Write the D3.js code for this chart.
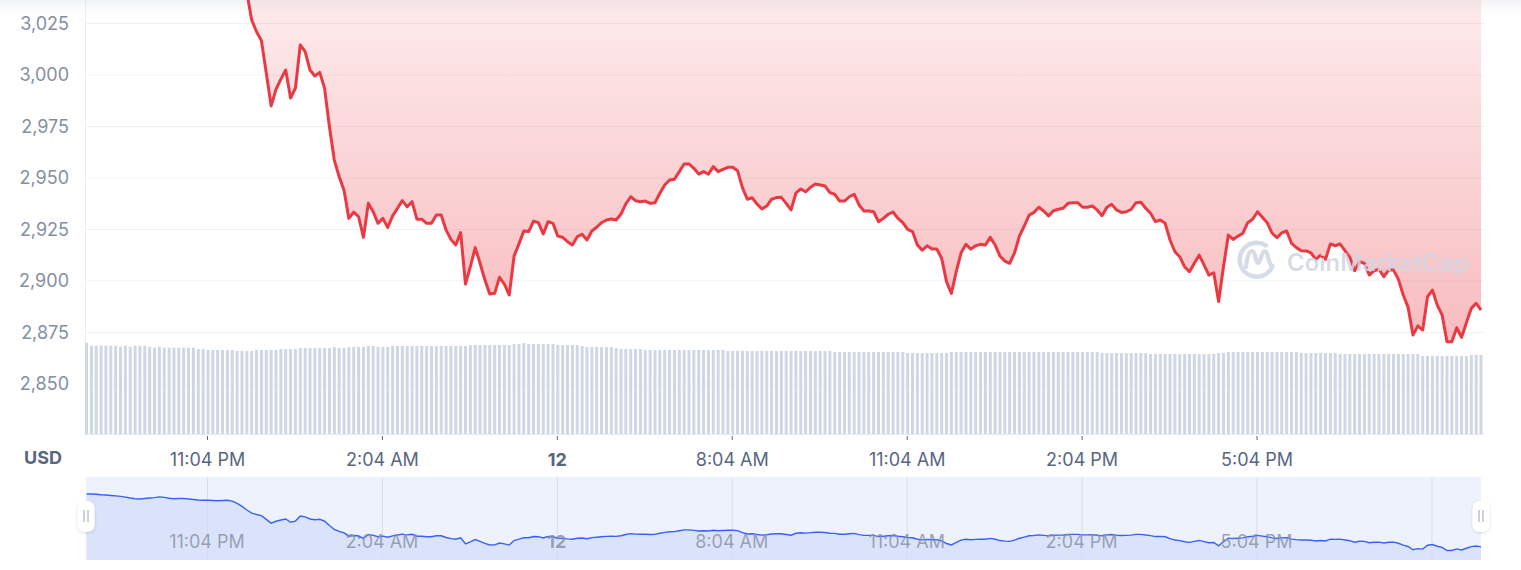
<!DOCTYPE html>
<html>
<head>
<meta charset="utf-8">
<script src="https://cdn.jsdelivr.net/npm/d3@7/dist/d3.min.js"></script>
<style>
  html, body { margin: 0; padding: 0; background: #ffffff; }
  svg { display: block; font-family: Inter, "Noto Sans", sans-serif; }
</style>
</head>
<body>
<svg id="chart" width="1521" height="570"></svg>
<script>
// ---------------- DATA ----------------
const startTime = "2022-03-11T21:00";   // first 5-minute sample
const stepMinutes = 5;

const prices = [
  3107, 3107, 3106, 3104, 3103, 3101, 3099, 3097, 3094, 3090,
  3087, 3086, 3088, 3090, 3092, 3095, 3093, 3089, 3087, 3088,
  3088, 3086, 3084, 3082, 3081, 3081, 3080, 3079, 3080, 3081,
  3077, 3068, 3055, 3040, 3026.7, 3021, 3016.7, 3001, 2985, 2993,
  2998, 3002.4, 2988.8, 2993.7, 3014.6, 3011.3, 3002.4, 2999.5, 3001.3, 2993.5,
  2974.9, 2958.7, 2950.6, 2944, 2930.4, 2933.4, 2931.2, 2921.2, 2937.7, 2933.6,
  2928, 2930.4, 2926, 2931.6, 2935.3, 2939, 2936, 2938.5, 2930, 2930,
  2928, 2928, 2932, 2932, 2924.8, 2920.2, 2917.5, 2923.5, 2898.5, 2907,
  2916.2, 2908.6, 2900.5, 2893.7, 2894.0, 2901.8, 2898.5, 2893.2, 2912.1, 2918.0,
  2924.3, 2924.0, 2929.1, 2928.3, 2922.8, 2928.8, 2928.0, 2921.8, 2921.2, 2919.1,
  2917.5, 2921.5, 2922.7, 2919.9, 2924.3, 2926.1, 2928.3, 2929.6, 2930.1, 2929.6,
  2932.5, 2937.4, 2940.9, 2939.0, 2938.5, 2938.8, 2937.7, 2938.0, 2942.6, 2946.6,
  2949.0, 2949.4, 2953.1, 2956.8, 2956.8, 2954.7, 2951.9, 2953.1, 2951.9, 2955.5,
  2953.1, 2954.2, 2955.2, 2955.2, 2953.5, 2945.3, 2939.7, 2940.4, 2937.4, 2935.0,
  2936.4, 2939.7, 2940.5, 2940.6, 2937.7, 2934.5, 2942.6, 2944.7, 2943.3, 2945.5,
  2947.1, 2946.6, 2946.1, 2942.9, 2942.1, 2938.8, 2938.8, 2940.9, 2942.1, 2936.9,
  2934.0, 2934.0, 2933.6, 2928.8, 2930.4, 2932.4, 2933.5, 2930.4, 2928.3, 2925.1,
  2924.0, 2917.5, 2915.0, 2917.1, 2915.5, 2915.5, 2911.0, 2899.7, 2894.0, 2904.5,
  2913.7, 2917.8, 2915.5, 2917.1, 2917.8, 2917.5, 2921.2, 2917.5, 2912.1, 2909.7,
  2908.6, 2913.7, 2921.8, 2926.7, 2932.0, 2933.3, 2935.8, 2934.0, 2931.6, 2934.1,
  2934.8, 2935.3, 2937.7, 2938.0, 2938.0, 2935.8, 2935.8, 2936.4, 2934.5, 2931.7,
  2935.8, 2937.2, 2934.5, 2933.3, 2933.6, 2934.8, 2938.0, 2938.2, 2935.3, 2932.9,
  2928.8, 2929.6, 2928.0, 2919.9, 2914.2, 2911.8, 2906.9, 2904.5, 2908.6, 2912.6,
  2907.8, 2902.9, 2904.0, 2890.0, 2906.9, 2922.3, 2920.2, 2921.8, 2923.2, 2928.3,
  2930.0, 2933.6, 2930.9, 2928.3, 2923.2, 2921.0, 2923.4, 2924.3, 2918.3, 2916.2,
  2914.7, 2914.6, 2913.7, 2910.5, 2912.6, 2910.5, 2918.0, 2917.1, 2918.0, 2914.7,
  2911.5, 2905.0, 2909.4, 2908.6, 2902.9, 2905.0, 2905.7, 2902.1, 2905.3, 2905.3,
  2900.8, 2893.2, 2887.2, 2873.8, 2878.2, 2876.2, 2892.4, 2895.6, 2888.3, 2883.5,
  2870.5, 2870.5, 2877.3, 2872.7, 2879.8, 2886.7, 2889.2, 2885.9
];

// trading volume per 5-minute bar (relative units, hidden axis)
const volumes = [
  91.3, 88.3, 88.3, 88.3, 88.3, 88.3, 88.3, 87.3, 88.3, 87.3,
  88.3, 88.3, 88.3, 87.3, 86.3, 87.3, 86.3, 86.3, 86.3, 86.3,
  86.3, 86.3, 86.3, 85, 85, 84, 84, 84, 84, 84,
  84, 83, 83, 83, 83, 84, 84, 84, 84, 84,
  85, 85, 85, 85, 86, 86, 86, 86, 86, 86,
  86, 87, 86, 86, 87, 87, 87, 87, 88, 88,
  87, 87, 87, 88, 88, 88, 88, 88, 88, 88,
  88, 88, 88, 88, 88, 88, 88, 88, 88, 89,
  89, 89, 89, 89, 89, 89, 89, 89, 90, 90,
  91, 90, 90, 90, 90, 90, 90, 89, 89, 89,
  89, 89, 88, 87, 87, 87, 87, 87, 87, 86,
  85, 85, 85, 85, 85, 84, 84, 84, 84, 84,
  84, 84, 84, 84, 84, 84, 84, 84, 84, 84,
  84, 84, 83, 83, 83, 83, 83, 83, 83, 83,
  83, 83, 83, 83, 83, 83, 83, 83, 83, 83,
  83, 83, 83, 83, 82, 82, 82, 82, 82, 82,
  82, 82, 82, 82, 82, 82, 82, 82, 82, 81,
  81, 81, 81, 81, 81, 81, 81, 81, 82, 82,
  82, 82, 82, 82, 82, 82, 82, 82, 82, 82,
  82, 82, 82, 82, 82, 82, 82, 82, 82, 82,
  82, 82, 82, 82, 82, 82, 82, 82, 82, 81,
  81, 81, 81, 81, 81, 81, 81, 81, 81, 80,
  80, 80, 80, 80, 80, 80, 80, 80, 80, 80,
  80, 80, 80, 81, 81, 82, 82, 82, 82, 82,
  82, 82, 82, 82, 82, 82, 82, 82, 82, 82,
  81, 81, 81, 81, 81, 81, 81, 81, 80, 80,
  80, 80, 80, 80, 80, 80, 80, 80, 80, 80,
  80, 80, 80, 80, 80, 78, 78, 78, 78, 78,
  78, 78, 78, 78, 78, 79, 79, 79
];

const yTicks = [2850, 2875, 2900, 2925, 2950, 2975, 3000, 3025];
const tickTimes = ["2022-03-11T23:04", "2022-03-12T02:04", "2022-03-12T05:04", "2022-03-12T08:04",
                   "2022-03-12T11:04", "2022-03-12T14:04", "2022-03-12T17:04"];
const tickLabels = ["11:04 PM", "2:04 AM", "12", "8:04 AM", "11:04 AM", "2:04 PM", "5:04 PM"];
const navGridTimes = ["2022-03-11T23:04", "2022-03-12T02:04", "2022-03-12T05:04", "2022-03-12T08:04",
                      "2022-03-12T11:04", "2022-03-12T14:04", "2022-03-12T17:04", "2022-03-12T20:04"];
const currencyLabel = "USD";

// ---------------- SETUP ----------------
const parse = d3.timeParse("%Y-%m-%dT%H:%M");
const t0 = parse(startTime);
const times = prices.map((_, i) => d3.timeMinute.offset(t0, i * stepMinutes));
const tickDates = tickTimes.map(parse);
const navGridDates = navGridTimes.map(parse);

const svg = d3.select("#chart");
const defs = svg.append("defs");

const plotLeft = 85, plotRight = 1484, plotBottom = 434;
const labelSize = 18;

const x = d3.scaleTime().domain([times[0], times[times.length - 1]]).range([86.5, 1481]);
const y = d3.scaleLinear().domain([2850, 3000]).range([384, 75]);
const yVol = d3.scaleLinear().domain([0, d3.max(volumes)]).range([plotBottom, 342.7]);

// top header shadow
const shadow = defs.append("linearGradient").attr("id", "topShadow")
  .attr("x1", 0).attr("y1", 0).attr("x2", 0).attr("y2", 1);
shadow.append("stop").attr("offset", 0).attr("stop-color", "#58667e").attr("stop-opacity", 0.07);
shadow.append("stop").attr("offset", 1).attr("stop-color", "#58667e").attr("stop-opacity", 0);

// area gradient
const baseline = prices[0];
const grad = defs.append("linearGradient").attr("id", "redFill")
  .attr("gradientUnits", "userSpaceOnUse")
  .attr("x1", 0).attr("x2", 0)
  .attr("y1", y(baseline)).attr("y2", y(d3.min(prices)));
grad.append("stop").attr("offset", 0).attr("stop-color", "#ea3943").attr("stop-opacity", 0.0);
grad.append("stop").attr("offset", 1).attr("stop-color", "#ea3943").attr("stop-opacity", 0.34);

defs.append("clipPath").attr("id", "plotClip").append("rect")
  .attr("x", plotLeft).attr("y", -300).attr("width", plotRight - plotLeft).attr("height", plotBottom + 300);

// ---------------- MAIN CHART ----------------
svg.append("g").selectAll("line").data(yTicks).join("line")
  .attr("x1", plotLeft).attr("x2", plotRight)
  .attr("y1", d => y(d)).attr("y2", d => y(d))
  .attr("stroke", "#eff2f5").attr("stroke-width", 1);

svg.append("line").attr("x1", plotLeft + 0.5).attr("x2", plotLeft + 0.5)
  .attr("y1", 0).attr("y2", plotBottom).attr("stroke", "#e9edf2");

// volume bars
svg.append("g").selectAll("rect").data(volumes).join("rect")
  .attr("x", (d, i) => x(times[i]) - 1.5)
  .attr("width", 3)
  .attr("y", d => yVol(d))
  .attr("height", d => plotBottom - yVol(d))
  .attr("fill", "#cfd6e4");

// red area + line
const plot = svg.append("g").attr("clip-path", "url(#plotClip)");
plot.append("path").datum(prices)
  .attr("d", d3.area().x((d, i) => x(times[i])).y0(y(baseline)).y1(d => y(d)))
  .attr("fill", "url(#redFill)");
plot.append("path").datum(prices)
  .attr("d", d3.line().x((d, i) => x(times[i])).y(d => y(d)))
  .attr("fill", "none").attr("stroke", "#ea3943").attr("stroke-width", 3)
  .attr("stroke-linejoin", "round");

// y axis labels
const yAxis = svg.append("g").attr("transform", `translate(${plotLeft},0)`)
  .call(d3.axisLeft(y).tickValues(yTicks).tickFormat(d3.format(",")).tickSize(0).tickPadding(16));
yAxis.select(".domain").remove();
yAxis.selectAll("text").attr("fill", "#858fa2").attr("font-size", labelSize).attr("font-family", "Inter, sans-serif");

// x axis
const xAxis = svg.append("g").attr("transform", `translate(0,${plotBottom})`)
  .call(d3.axisBottom(x).tickValues(tickDates).tickFormat((d, i) => tickLabels[i]).tickSize(6).tickPadding(13));
xAxis.select(".domain").attr("stroke", "#e6e9ee").attr("d", `M${plotLeft},0.5H${plotRight}`);
xAxis.selectAll(".tick line").attr("stroke", "#58667e").attr("y1", 2);
xAxis.selectAll("text").attr("fill", "#58667e").attr("font-size", labelSize).attr("font-family", "Inter, sans-serif")
  .attr("font-weight", d => (tickLabels[tickDates.indexOf(d)] === "12" ? 700 : 400));

svg.append("text").attr("x", 24).attr("y", 464).text(currencyLabel)
  .attr("fill", "#58667e").attr("font-size", labelSize).attr("font-weight", 700);

// watermark
const wm = svg.append("g").attr("opacity", 0.85);
wm.append("path")
  .attr("d", "M1272.5,266 A17,17 0 1 1 1266,245.5")
  .attr("fill", "none").attr("stroke", "#cfd6e3").attr("stroke-width", 4.5).attr("stroke-linecap", "round");
wm.append("path")
  .attr("d", "M1246,267 C1247,257 1249,251 1252,251 C1256,251 1255,263 1258,263 C1261,263 1261,251 1265,251 C1268,251 1268,262 1271,265")
  .attr("fill", "none").attr("stroke", "#cfd6e3").attr("stroke-width", 4.2).attr("stroke-linecap", "round");
wm.append("text").attr("x", 1287).attr("y", 271).text("CoinMarketCap")
  .attr("fill", "#cfd6e3").attr("font-size", 24).attr("font-weight", 600);

svg.append("rect").attr("x", 0).attr("y", 0).attr("width", 1521).attr("height", 14).attr("fill", "url(#topShadow)");

// ---------------- NAVIGATOR ----------------
const navTop = 477, navBottom = 560;
const yNav = d3.scaleLinear().domain([d3.min(prices), d3.max(prices)]).range([550.5, 494]);

svg.append("rect").attr("x", 86).attr("y", navTop).attr("width", 1481 - 86).attr("height", navBottom - navTop)
  .attr("fill", "#eef2fd");
svg.append("path").datum(prices)
  .attr("d", d3.area().x((d, i) => x(times[i])).y0(navBottom).y1(d => yNav(d)))
  .attr("fill", "#dbe3fb");
svg.append("g").selectAll("line").data(navGridDates).join("line")
  .attr("x1", d => x(d) + 0.5).attr("x2", d => x(d) + 0.5)
  .attr("y1", navTop).attr("y2", navBottom)
  .attr("stroke", "#d6ddf0").attr("stroke-width", 1);
svg.append("path").datum(prices)
  .attr("d", d3.line().x((d, i) => x(times[i])).y(d => yNav(d)))
  .attr("fill", "none").attr("stroke", "#3861fb").attr("stroke-width", 1.4);

svg.append("g").selectAll("text").data(tickDates).join("text")
  .attr("x", d => x(d)).attr("y", 548)
  .attr("text-anchor", "middle")
  .text((d, i) => tickLabels[i])
  .attr("fill", "#8a93a6").attr("fill-opacity", 0.85)
  .attr("font-size", labelSize)
  .attr("font-weight", (d, i) => (tickLabels[i] === "12" ? 700 : 400));

// handles
defs.append("filter").attr("id", "hs").attr("x", "-50%").attr("y", "-50%").attr("width", "200%").attr("height", "200%")
  .append("feDropShadow").attr("dx", 0).attr("dy", 1).attr("stdDeviation", 1.5).attr("flood-color", "#000").attr("flood-opacity", 0.15);
[86, 1481].forEach(cx => {
  const g = svg.append("g");
  g.append("rect").attr("x", cx - 8.5).attr("y", 501).attr("width", 17).attr("height", 31).attr("rx", 7)
    .attr("fill", "#ffffff").attr("filter", "url(#hs)");
  g.append("line").attr("x1", cx - 2).attr("x2", cx - 2).attr("y1", 510).attr("y2", 522).attr("stroke", "#9aa1b0").attr("stroke-width", 1);
  g.append("line").attr("x1", cx + 2).attr("x2", cx + 2).attr("y1", 510).attr("y2", 522).attr("stroke", "#9aa1b0").attr("stroke-width", 1);
});
</script>
</body>
</html>
